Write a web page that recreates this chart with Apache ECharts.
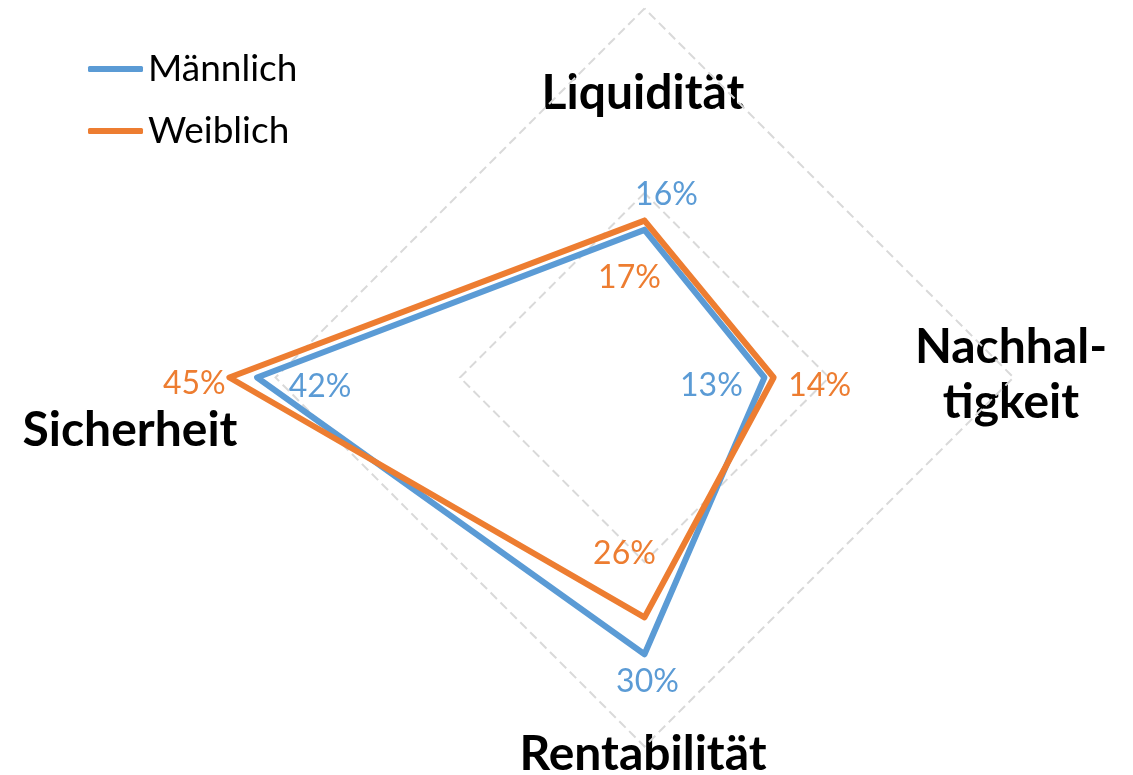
<!DOCTYPE html>
<html>
<head>
<meta charset="utf-8">
<script src="https://cdn.jsdelivr.net/npm/echarts@6/dist/echarts.min.js"></script>
<style>
  html, body { margin: 0; padding: 0; background: #fff; }
  #chart { width: 1133px; height: 775px; }
</style>
</head>
<body>
<div id="chart"></div>
<script>
const CATEGORIES = ["Liquidität", "Nachhaltigkeit", "Rentabilität", "Sicherheit"];
const MALE = [16, 13, 30, 42];
const FEMALE = [17, 14, 26, 45];
const GRID_MAX = 40;   // outer dashed diamond
const SCALE_MAX = 50;  // polar scale for the labels

const BLUE = "#5B9BD5";
const ORANGE = "#ED7D31";
const FONT = "Lato, 'Noto Sans', sans-serif";
const CENTER = [644.5, 377.5];
const RADIUS = 369;

// label offsets per vertex (Excel placed them by hand)
const MALE_OFFSETS = [[22, -35], [-53, 8], [3, 27], [63, 9]];
const FEMALE_OFFSETS = [[-15, 57], [46, 8], [-20, -64], [-35, 6]];

// category names, placed like in the original
const NAME_SPOTS = [
  { text: "Liquidität", x: 643, y: 94 },
  { text: "Nachhal-\ntigkeit", x: 1011, y: 375 },
  { text: "Rentabilität", x: 643, y: 755 },
  { text: "Sicherheit", x: 130, y: 431 }
];

// radar indicators run counter-clockwise from the top,
// the picture runs clockwise: top, right, bottom, left
const RADAR_ORDER = [0, 3, 2, 1];
const toRadar = vals => RADAR_ORDER.map(i => vals[i]);

function radarSeries(name, vals, color) {
  return {
    type: "radar",
    radarIndex: 0,
    symbol: "none",
    lineStyle: { color, width: 6, join: "round", cap: "round" },
    itemStyle: { color },
    emphasis: { disabled: true },
    animation: false,
    data: [{ name, value: toRadar(vals) }]
  };
}

function labelSeries(name, vals, offsets, color) {
  return {
    name: name + " %",
    type: "scatter",
    coordinateSystem: "polar",
    symbolSize: 0,
    clip: false,
    itemStyle: { color, opacity: 1 },
    data: vals.map((v, i) => ({ value: [v, i], label: { offset: offsets[i] } })),
    label: {
      show: true,
      position: "inside",
      color,
      opacity: 1,
      fontFamily: FONT,
      fontSize: 32,
      formatter: p => p.value[0] + "%"
    },
    emphasis: { disabled: true },
    animation: false
  };
}

const chart = echarts.init(document.getElementById("chart"));
chart.setOption({
  backgroundColor: "#fff",
  legend: {
    orient: "vertical",
    left: 83,
    top: 44,
    icon: "roundRect",
    itemWidth: 55,
    itemHeight: 6,
    itemGap: 22,
    textStyle: { color: "#000", fontFamily: FONT, fontSize: 37, lineHeight: 40 },
    data: ["Männlich", "Weiblich"]
  },
  radar: {
    center: CENTER,
    radius: RADIUS,
    shape: "polygon",
    splitNumber: 2,
    indicator: RADAR_ORDER.map(i => ({ name: CATEGORIES[i], min: 0, max: GRID_MAX })),
    axisName: { show: false },
    axisLine: { show: false },
    axisTick: { show: false },
    axisLabel: { show: false },
    splitArea: { show: false },
    splitLine: { lineStyle: { color: "#D9D9D9", width: 2, type: [9, 5] } }
  },
  polar: { center: CENTER, radius: RADIUS * SCALE_MAX / GRID_MAX },
  angleAxis: {
    type: "category",
    data: CATEGORIES,
    startAngle: 90,
    clockwise: true,
    boundaryGap: false,
    show: false
  },
  radiusAxis: { type: "value", min: 0, max: SCALE_MAX, show: false },
  graphic: NAME_SPOTS.map(s => ({
    type: "text",
    x: s.x,
    y: s.y,
    style: {
      text: s.text,
      fill: "#000",
      font: "bold 48px " + FONT,
      align: "center",
      verticalAlign: "middle",
      lineHeight: 55
    }
  })),
  series: [
    radarSeries("Männlich", MALE, BLUE),
    radarSeries("Weiblich", FEMALE, ORANGE),
    labelSeries("Männlich", MALE, MALE_OFFSETS, BLUE),
    labelSeries("Weiblich", FEMALE, FEMALE_OFFSETS, ORANGE)
  ]
});
</script>
</body>
</html>
